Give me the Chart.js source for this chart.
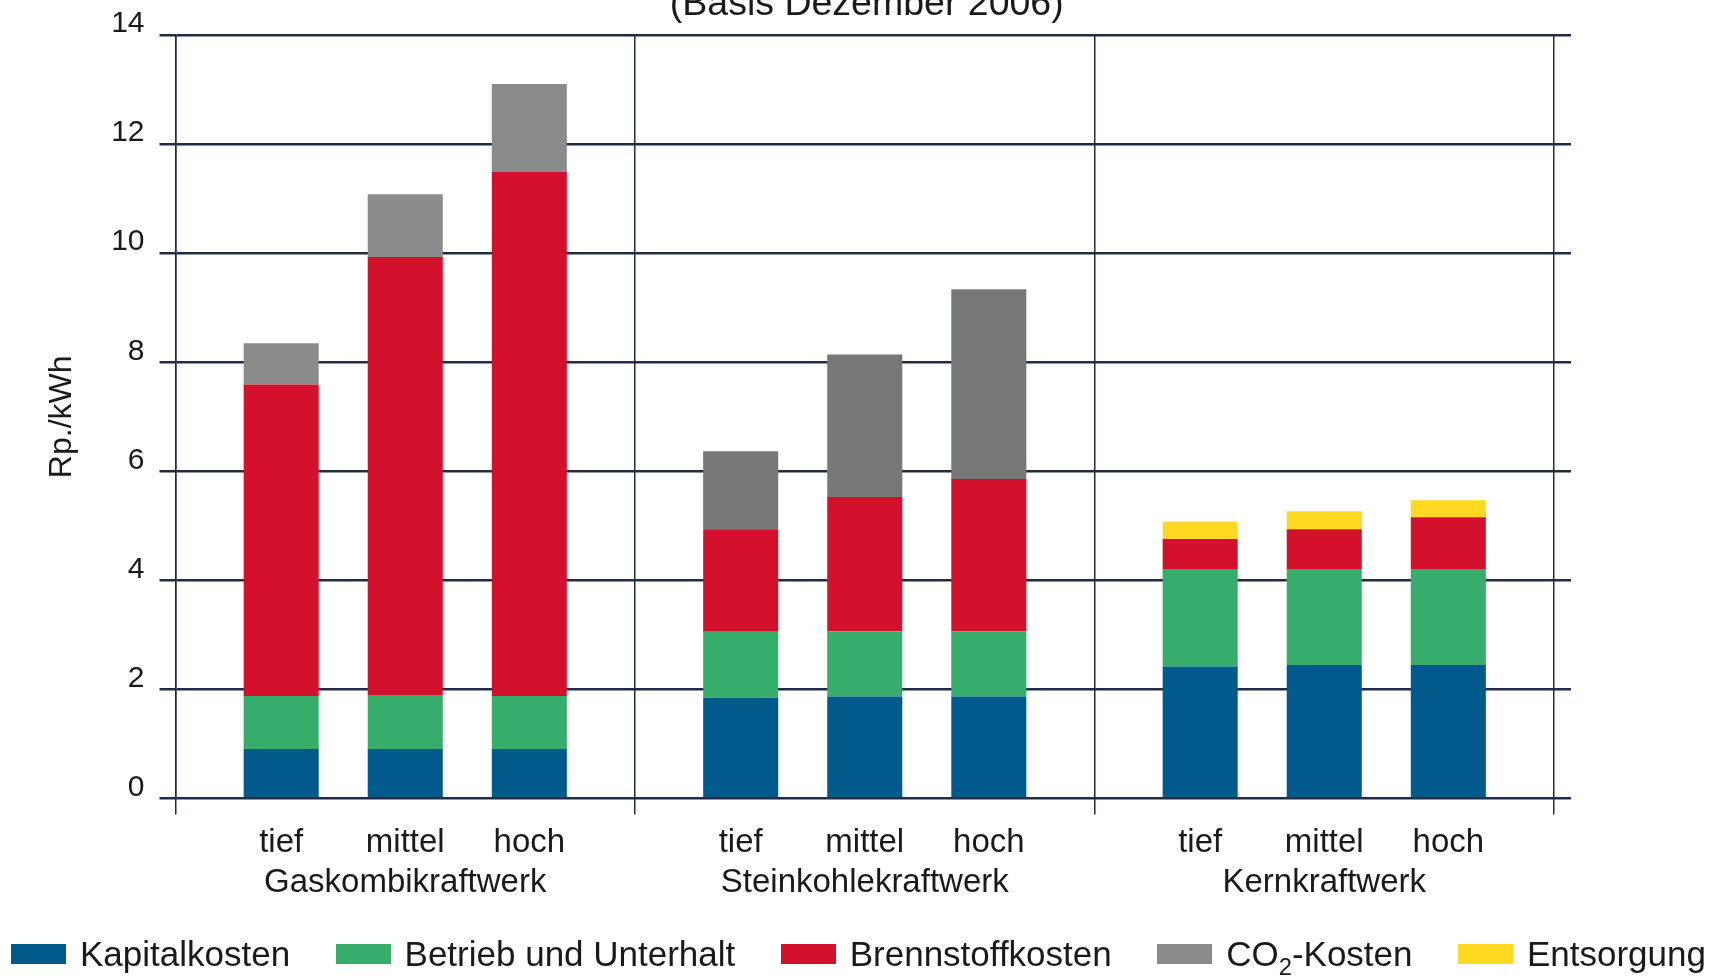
<!DOCTYPE html>
<html>
<head>
<meta charset="utf-8">
<script src="https://cdn.jsdelivr.net/npm/chart.js@4.4.1/dist/chart.umd.min.js"></script>
<style>
  html, body { margin: 0; padding: 0; background: #ffffff; }
  #wrap { position: relative; width: 1720px; height: 978px; overflow: hidden; }
  #legend {
    position: absolute; left: 11px; width: 1695px; top: 933px; height: 42px;
    display: flex; justify-content: space-between; align-items: center;
    font-family: "Liberation Sans", Arial, sans-serif; font-size: 35px; color: #1a1a1a;
  }
  .item { display: flex; align-items: center; white-space: nowrap; }
  .box { width: 55px; height: 20px; margin-right: 14px; }
  .item sub { font-size: 0.68em; vertical-align: -0.38em; line-height: 0; }
</style>
</head>
<body>
<div id="wrap">
  <canvas id="c" width="1720" height="978"></canvas>
  <div id="legend"></div>
</div>
<script>
// ---- Data (Rp./kWh), order: Gas tief/mittel/hoch, Stein tief/mittel/hoch, Kern tief/mittel/hoch
const plants = ['Gaskombikraftwerk', 'Steinkohlekraftwerk', 'Kernkraftwerk'];
const scenarios = ['tief', 'mittel', 'hoch'];
const seriesNames = ['Kapitalkosten', 'Betrieb und Unterhalt', 'Brennstoffkosten', 'CO₂-Kosten', 'Entsorgung'];
const kapitalkosten    = [0.91, 0.91, 0.91, 1.85, 1.87, 1.87, 2.42, 2.45, 2.45];
const betriebUnterhalt = [0.97, 0.99, 0.97, 1.21, 1.20, 1.20, 1.79, 1.76, 1.76];
const brennstoffkosten = [5.71, 8.03, 9.61, 1.88, 2.46, 2.79, 0.55, 0.73, 0.95];
const co2Kosten        = [0.76, 1.15, 1.61, 1.43, 2.61, 3.48, null, null, null];
const entsorgung       = [null, null, null, null, null, null, 0.32, 0.33, 0.31];
const yTickValues = [0, 2, 4, 6, 8, 10, 12, 14];
const yTitle = 'Rp./kWh';
const subTitle = '(Basis Dezember 2006)';

// ---- Styles
const seriesColors = ['#005b8c', '#36ad6b', '#d3112c', ['#8a8c8b', '#767877', '#767877'], '#fdd922'];
const legendColors = ['#005b8c', '#36ad6b', '#d3112c', '#8a8a8a', '#fdd922'];
const gridColor = '#1f2c44';
const textColor = '#1a1a1a';
const FONT = '"Liberation Sans", Arial, Helvetica, sans-serif';

const seriesValues = [kapitalkosten, betriebUnterhalt, brennstoffkosten, co2Kosten, entsorgung];

// build datasets: one per (scenario, series); scenario = stack
const datasets = [];
scenarios.forEach((sc, si) => {
  seriesNames.forEach((name, ci) => {
    const vals = seriesValues[ci];
    datasets.push({
      label: name,
      stack: sc,
      data: plants.map((p, pi) => vals[pi * scenarios.length + si]),
      backgroundColor: seriesColors[ci],
      borderWidth: 0,
      categoryPercentage: 0.81,
      barPercentage: 0.605
    });
  });
});

// HTML legend
const legendEl = document.getElementById('legend');
seriesNames.forEach((name, i) => {
  const it = document.createElement('div');
  it.className = 'item';
  const b = document.createElement('span');
  b.className = 'box';
  b.style.background = legendColors[i];
  const t = document.createElement('span');
  t.innerHTML = name.replace('₂', '<sub>2</sub>');
  it.appendChild(b); it.appendChild(t);
  legendEl.appendChild(it);
});

const extraLabels = {
  id: 'extraLabels',
  afterDraw(chart) {
    const ctx = chart.ctx, area = chart.chartArea;
    ctx.save();
    ctx.fillStyle = textColor;
    ctx.textAlign = 'center';
    ctx.textBaseline = 'middle';
    ctx.font = '33px ' + FONT;
    scenarios.forEach((sc, si) => {
      const meta = chart.getDatasetMeta(si * seriesNames.length);
      meta.data.forEach(el => ctx.fillText(sc, el.x, area.bottom + 44));
    });
    ctx.font = '37.5px ' + FONT;
    ctx.textBaseline = 'alphabetic';
    ctx.fillText(subTitle, (area.left + area.right) / 2 + 2, 15);
    ctx.restore();
  }
};

Chart.defaults.font.family = FONT;
Chart.defaults.color = textColor;

new Chart(document.getElementById('c'), {
  type: 'bar',
  data: { labels: plants, datasets },
  plugins: [extraLabels],
  options: {
    responsive: false,
    animation: false,
    devicePixelRatio: 1,
    layout: { padding: { top: 35, left: 0, right: 0, bottom: 0 } },
    plugins: { legend: { display: false }, tooltip: { enabled: false }, title: { display: false } },
    scales: {
      x: {
        stacked: true,
        offset: true,
        grid: { offset: true, color: gridColor, lineWidth: 1.5, tickLength: 16, drawOnChartArea: true },
        border: { display: false },
        ticks: { font: { size: 33 }, color: textColor, padding: 49, maxRotation: 0 },
        afterFit(scale) { scale.height = 179.4; }
      },
      y: {
        stacked: true,
        position: 'left',
        min: yTickValues[0],
        max: yTickValues[yTickValues.length - 1],
        afterBuildTicks(scale) { scale.ticks = yTickValues.map(v => ({ value: v })); },
        grid: { color: gridColor, lineWidth: 2.5, tickLength: 16 },
        border: { display: true, color: gridColor, width: 1.5 },
        ticks: { font: { size: 30 }, color: textColor, padding: 15, labelOffset: -11 },
        title: { display: true, text: yTitle, font: { size: 32 }, color: textColor, padding: { top: 43, bottom: 0 } },
        afterFit(scale) { scale.width = 175.5; }
      },
      yRight: {
        position: 'right',
        min: yTickValues[0],
        max: yTickValues[yTickValues.length - 1],
        afterBuildTicks(scale) { scale.ticks = yTickValues.map(v => ({ value: v })); },
        grid: { drawOnChartArea: false, color: gridColor, lineWidth: 2.5, tickLength: 17 },
        border: { display: false },
        ticks: { display: false },
        afterFit(scale) { scale.width = 166; }
      }
    }
  }
});
</script>
</body>
</html>
